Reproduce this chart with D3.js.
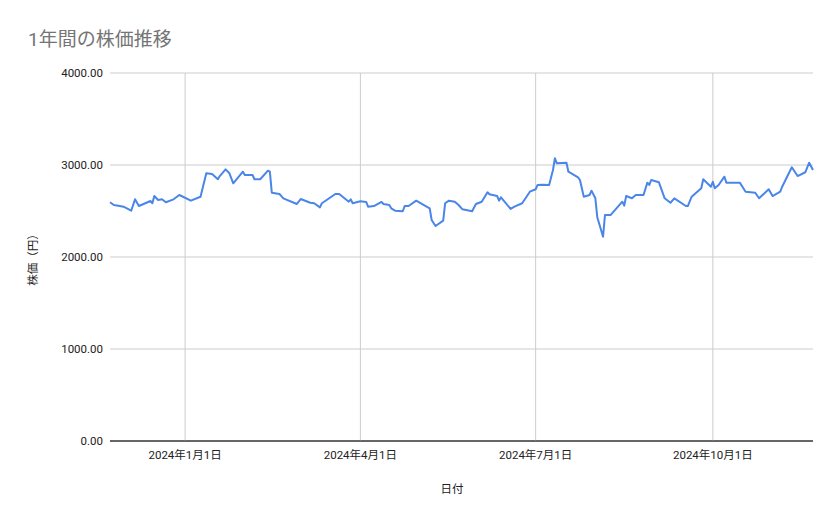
<!DOCTYPE html>
<html><head><meta charset="utf-8">
<script src="https://cdn.jsdelivr.net/npm/d3@7"></script>
<style>body{margin:0;background:#fff}svg{display:block}text{font-family:Roboto,"Noto Sans CJK JP",sans-serif}</style>
</head><body><svg id="c" width="839" height="519"></svg>
<script>
const dates = ["2023-11-23","2023-11-25","2023-11-28","2023-11-30","2023-12-04","2023-12-06","2023-12-08","2023-12-14","2023-12-15","2023-12-16","2023-12-18","2023-12-20","2023-12-22","2023-12-26","2023-12-29",
"2024-01-04","2024-01-09","2024-01-12","2024-01-15","2024-01-18","2024-01-19","2024-01-22","2024-01-24","2024-01-26","2024-01-31",
"2024-02-01","2024-02-05","2024-02-06","2024-02-09","2024-02-13","2024-02-14","2024-02-15","2024-02-19","2024-02-21","2024-02-28",
"2024-03-01","2024-03-06","2024-03-08","2024-03-11","2024-03-12","2024-03-19","2024-03-21","2024-03-26","2024-03-27","2024-03-28",
"2024-04-01","2024-04-04","2024-04-05","2024-04-08","2024-04-12","2024-04-13","2024-04-16","2024-04-17","2024-04-19","2024-04-23","2024-04-24","2024-04-26","2024-04-30",
"2024-05-04","2024-05-07","2024-05-08","2024-05-10","2024-05-14","2024-05-15","2024-05-17","2024-05-20","2024-05-22","2024-05-24","2024-05-29","2024-05-31",
"2024-06-03","2024-06-06","2024-06-07","2024-06-11","2024-06-12","2024-06-13","2024-06-18","2024-06-20","2024-06-24","2024-06-28",
"2024-07-01","2024-07-02","2024-07-05","2024-07-08","2024-07-10","2024-07-11","2024-07-12","2024-07-17","2024-07-18","2024-07-23","2024-07-24","2024-07-26","2024-07-29","2024-07-30",
"2024-08-01","2024-08-02","2024-08-05","2024-08-06","2024-08-09","2024-08-15","2024-08-16","2024-08-17","2024-08-20","2024-08-22","2024-08-26","2024-08-28","2024-08-29","2024-08-30",
"2024-09-03","2024-09-06","2024-09-09","2024-09-11","2024-09-17","2024-09-18","2024-09-20","2024-09-25","2024-09-26","2024-09-30",
"2024-10-01","2024-10-02","2024-10-04","2024-10-07","2024-10-08","2024-10-15","2024-10-18","2024-10-23","2024-10-25","2024-10-30",
"2024-11-01","2024-11-05","2024-11-06","2024-11-11","2024-11-14","2024-11-18","2024-11-20","2024-11-22"];
const prices = [2595,2565,2554,2547,2503,2627,2554,2609,2584,2663,2620,2627,2595,2627,2674,
2612,2655,2910,2902,2845,2880,2953,2910,2801,2927,
2891,2891,2845,2845,2938,2927,2699,2685,2638,2576,
2630,2590,2584,2540,2584,2685,2685,2601,2627,2584,
2605,2598,2547,2554,2598,2576,2565,2529,2503,2497,2554,2554,2612,
2565,2529,2402,2337,2395,2584,2612,2601,2565,2518,2497,2576,
2601,2703,2682,2663,2612,2649,2522,2547,2584,2710,
2736,2783,2786,2783,2946,3073,3018,3025,2927,2866,2837,2655,2674,2721,
2638,2432,2221,2457,2457,2601,2558,2663,2638,2674,2674,2808,2783,2837,
2812,2638,2590,2638,2554,2554,2655,2747,2845,2764,
2818,2747,2783,2873,2808,2808,2710,2699,2638,2736,
2663,2710,2764,2975,2880,2921,3025,2945];
const yTicks = [0,1000,2000,3000,4000];
const xTicks = ["2024-01-01","2024-04-01","2024-07-01","2024-10-01"];

const parse = d3.timeParse("%Y-%m-%d");
const data = dates.map((d,i)=>({d:parse(d),v:prices[i]}));
const svg = d3.select("#c");
const L=110,R=813,T=73,B=441;
const x = d3.scaleTime().domain(d3.extent(data,d=>d.d)).range([L,R]);
const y = d3.scaleLinear().domain([0,4000]).range([B,T]);

svg.append("text").attr("x",28).attr("y",46).attr("font-size",19).attr("fill","#757575").text("1年間の株価推移");

const gy = svg.append("g");
yTicks.forEach(t=>{
  gy.append("line").attr("x1",L).attr("x2",R).attr("y1",y(t)).attr("y2",y(t)).attr("stroke",t===0?"#333":"#ccc").attr("stroke-width",1);
  gy.append("text").attr("x",103).attr("y",y(t)+4).attr("text-anchor","end").attr("font-size",11.5).attr("fill","#222").text(d3.format(".2f")(t));
});
xTicks.forEach(t=>{
  const xx = x(parse(t));
  svg.append("line").attr("x1",xx).attr("x2",xx).attr("y1",T).attr("y2",B).attr("stroke","#ccc");
  const dt=parse(t);
  svg.append("text").attr("x",xx).attr("y",459).attr("text-anchor","middle").attr("font-size",11.5).attr("fill","#222")
    .text(`${dt.getFullYear()}年${dt.getMonth()+1}月${dt.getDate()}日`);
});
svg.append("line").attr("x1",L).attr("x2",R).attr("y1",B).attr("y2",B).attr("stroke","#333");

svg.append("path").datum(data).attr("fill","none").attr("stroke","#4a86e8").attr("stroke-width",2).attr("stroke-linejoin","round")
  .attr("d",d3.line().x(d=>x(d.d)).y(d=>y(d.v)));

svg.append("text").attr("x",452).attr("y",493).attr("text-anchor","middle").attr("font-size",11.5).attr("fill","#222").text("日付");
svg.append("text").attr("transform","translate(37,257) rotate(-90)").attr("text-anchor","middle").attr("font-size",11.5).attr("fill","#222").text("株価（円）");
</script></body></html>
